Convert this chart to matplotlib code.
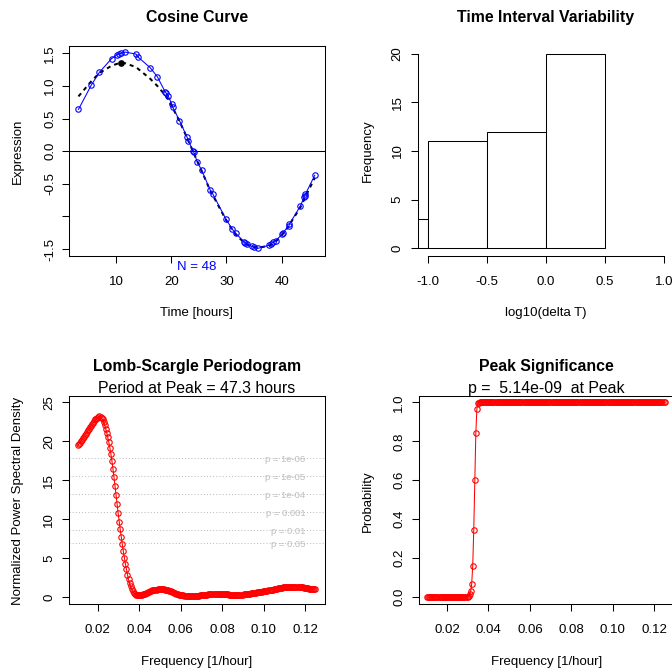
import numpy as np
import matplotlib
matplotlib.use('Agg')
import matplotlib.pyplot as plt
from matplotlib import transforms

plt.rcParams['font.family'] = ['Liberation Sans', 'DejaVu Sans']

W, H = 672, 670

# --- expression time series (hours, observed value, fitted curve) ---
hours = [3.2, 5.5, 7.0, 9.2, 10.2, 10.6, 10.9, 11.6, 13.6, 13.9,
         16.2, 17.5, 18.9, 19.1, 19.5, 20.1, 20.3, 21.5, 22.9, 23.1,
         24.0, 24.1, 24.7, 25.5, 27.1, 27.5, 29.9, 31.1, 31.7, 33.2,
         33.4, 33.7, 34.6, 35.0, 35.7, 37.8, 38.0, 38.5, 39.0, 40.1,
         40.2, 41.3, 41.4, 43.4, 44.1, 44.2, 44.3, 46.0]
expr = [0.64, 1.01, 1.21, 1.42, 1.48, 1.49, 1.50, 1.52, 1.49, 1.45,
        1.28, 1.14, 0.91, 0.89, 0.84, 0.72, 0.67, 0.47, 0.21, 0.16,
        0.00, -0.02, -0.16, -0.29, -0.60, -0.65, -1.04, -1.20, -1.26, -1.39,
        -1.41, -1.42, -1.46, -1.47, -1.49, -1.44, -1.42, -1.39, -1.37, -1.27,
        -1.25, -1.15, -1.12, -0.84, -0.70, -0.68, -0.66, -0.37]
fitted = [0.84, 1.07, 1.20, 1.31, 1.34, 1.35, 1.35, 1.35, 1.29, 1.27,
          1.11, 1.00, 0.86, 0.84, 0.79, 0.70, 0.66, 0.46, 0.20, 0.16,
          -0.01, -0.03, -0.15, -0.30, -0.61, -0.67, -1.05, -1.21, -1.28, -1.40,
          -1.41, -1.43, -1.46, -1.47, -1.48, -1.45, -1.44, -1.41, -1.38, -1.28,
          -1.27, -1.15, -1.13, -0.86, -0.74, -0.72, -0.70, -0.41]
fit_peak = (10.9, 1.35)

# --- sampling interval histogram (log10 of delta T) ---
bin_edges = [-1.5, -1.0, -0.5, 0.0, 0.5]
bin_counts = [3, 11, 12, 20]

# --- Lomb-Scargle periodogram ---
freq_from, freq_to = 0.0104, 0.1249
power = [19.5, 19.6, 19.8, 20.0, 20.2, 20.4, 20.6, 20.8, 21.0, 21.2,
         21.4, 21.6, 21.8, 22.0, 22.2, 22.4, 22.6, 22.8, 22.9, 23.0,
         23.1, 23.2, 23.1, 23.0, 22.8, 22.5, 22.1, 21.6, 21.1, 20.5,
         19.9, 19.2, 18.4, 17.5, 16.5, 15.4, 14.3, 13.1, 11.9, 10.8,
         9.7, 8.7, 7.7, 6.8, 5.9, 5.1, 4.3, 3.6, 2.9, 2.3,
         1.8, 1.4, 1.05, 0.8, 0.6, 0.45, 0.35, 0.3, 0.28, 0.28,
         0.28, 0.30, 0.33, 0.37, 0.42, 0.48, 0.54, 0.60, 0.66, 0.72,
         0.77, 0.82, 0.87, 0.91, 0.94, 0.97, 0.99, 1.00, 1.01, 1.02,
         1.02, 1.02, 1.01, 1.00, 0.98, 0.96, 0.93, 0.89, 0.85, 0.80,
         0.75, 0.70, 0.64, 0.58, 0.53, 0.48, 0.43, 0.39, 0.35, 0.31,
         0.28, 0.26, 0.24, 0.22, 0.21, 0.20, 0.19, 0.19, 0.18, 0.18,
         0.18, 0.18, 0.18, 0.19, 0.19, 0.20, 0.21, 0.22, 0.23, 0.25,
         0.26, 0.28, 0.30, 0.31, 0.33, 0.35, 0.36, 0.38, 0.39, 0.40,
         0.41, 0.42, 0.43, 0.43, 0.44, 0.44, 0.44, 0.44, 0.43, 0.43,
         0.42, 0.41, 0.40, 0.39, 0.38, 0.36, 0.35, 0.34, 0.33, 0.32,
         0.32, 0.31, 0.31, 0.31, 0.31, 0.32, 0.32, 0.33, 0.34, 0.35,
         0.37, 0.38, 0.40, 0.42, 0.44, 0.46, 0.48, 0.50, 0.52, 0.54,
         0.56, 0.59, 0.61, 0.63, 0.65, 0.67, 0.69, 0.71, 0.73, 0.75,
         0.77, 0.79, 0.82, 0.84, 0.87, 0.89, 0.92, 0.95, 0.98, 1.01,
         1.04, 1.07, 1.10, 1.13, 1.16, 1.19, 1.22, 1.24, 1.27, 1.29,
         1.31, 1.33, 1.34, 1.35, 1.36, 1.36, 1.37, 1.37, 1.37, 1.37,
         1.36, 1.36, 1.35, 1.34, 1.33, 1.31, 1.29, 1.27, 1.25, 1.22,
         1.19, 1.17, 1.14, 1.12, 1.10, 1.08, 1.07, 1.06, 1.06, 1.06]
prob = ([0.0] * 39
        + [0.003, 0.008, 0.015, 0.03, 0.068, 0.162, 0.345, 0.60, 0.843, 0.966, 0.995, 0.999]
        + [1.0] * 179)
freq = np.linspace(freq_from, freq_to, len(power))  # evenly spaced frequency grid

sig_labels = ['p = 0.05', 'p = 0.01', 'p = 0.001', 'p = 1e-04', 'p = 1e-05', 'p = 1e-06']
sig_levels = [6.98, 8.61, 10.91, 13.22, 15.52, 17.82]
peak_period = 47.3
peak_pvalue = '5.14e-09'
n_obs = 48

FS = 9.5      # axis text
FS_T = 11.4   # titles
LW = 0.75
MS = 3.9
GREY = '#bebebe'

fig = plt.figure(figsize=(W / 100, H / 100), dpi=100)


def panel(left, top, right, bottom):
    # plot region given in pixels from the top-left corner
    return fig.add_axes([left / W, 1 - bottom / H, (right - left) / W, (bottom - top) / H])


def r_axes(ax, xticks, xlabels, xlab_y, yticks, ylabels, ylab_x):
    ax.set_xticks(xticks)
    ax.set_yticks(yticks)
    ax.tick_params(direction='out', length=5, width=LW, labelbottom=False, labelleft=False)
    for s in ax.spines.values():
        s.set_linewidth(LW)
    tx = transforms.blended_transform_factory(ax.transData, fig.transFigure)
    for t, s in zip(xticks, xlabels):
        ax.text(t, 1 - xlab_y / H, s, transform=tx, ha='center', va='center', fontsize=FS)
    ty = transforms.blended_transform_factory(fig.transFigure, ax.transData)
    for t, s in zip(yticks, ylabels):
        ax.text(ylab_x / W, t, s, transform=ty, ha='center', va='center', rotation=90, fontsize=FS)


def put(x, y, s, **kw):
    fig.text(x / W, 1 - y / H, s, ha='center', va='center', **kw)


# Cosine Curve
ax1 = panel(69.3, 46, 325, 256)
ax1.axhline(0, color='black', lw=LW)
ax1.plot(hours, fitted, color='black', lw=1.45, ls=(0, (2, 2)))
ax1.plot(*fit_peak, 'o', color='black', ms=3.8)
ax1.plot(hours, expr, '-o', color='blue', lw=LW, mfc='none', mec='blue', ms=MS, mew=0.8)
ax1.set_xlim(1.54, 47.86)
ax1.set_ylim(-1.607, 1.613)
r_axes(ax1, [10, 20, 30, 40], ['10', '20', '30', '40'], 281.7,
       [-1.5, -1.0, -0.5, 0.0, 0.5, 1.0, 1.5], ['-1.5', '', '-0.5', '0.0', '0.5', '1.0', '1.5'], 50)
put(197, 17.3, 'Cosine Curve', fontsize=FS_T, fontweight='bold')
put(197, 312.7, 'Time [hours]', fontsize=FS)
put(18.3, 151, 'Expression', fontsize=FS, rotation=90)
put(197, 266.7, 'N = %d' % n_obs, fontsize=FS, color='blue')

# Time Interval Variability
ax2 = panel(418.3, 46, 674, 256)
ax2.bar(bin_edges[:-1], bin_counts, width=np.diff(bin_edges), align='edge',
        facecolor='white', edgecolor='black', lw=LW)
ax2.set_xlim(-1.08, 1.082)
ax2.set_ylim(-0.8, 20.8)
r_axes(ax2, [-1.0, -0.5, 0.0, 0.5, 1.0], ['-1.0', '-0.5', '0.0', '0.5', '1.0'], 281.7,
       [0, 5, 10, 15, 20], ['0', '5', '10', '15', '20'], 397.7)
ax2.spines['top'].set_visible(False)
ax2.spines['right'].set_visible(False)
ax2.spines['left'].set_bounds(0, 20)
ax2.spines['bottom'].set_bounds(-1.0, 1.0)
put(546, 17.3, 'Time Interval Variability', fontsize=FS_T, fontweight='bold')
put(546, 312.7, 'log10(delta T)', fontsize=FS)
put(367.7, 151, 'Frequency', fontsize=FS, rotation=90)

fticks = [0.02, 0.04, 0.06, 0.08, 0.10, 0.12]
flabels = ['0.02', '0.04', '0.06', '0.08', '0.10', '0.12']

# Lomb-Scargle Periodogram
ax3 = panel(69.3, 395.7, 325, 604.3)
for lev, lab in zip(sig_levels, sig_labels):
    ax3.axhline(lev, color=GREY, lw=LW, ls=(0, (1, 2)))
    ax3.text(0.1203, lev - 0.2, lab, ha='right', va='center', fontsize=6.8, color=GREY)
ax3.plot(freq, power, '-o', color='red', lw=LW, mfc='none', mec='red', ms=MS, mew=0.8)
ax3.set_xlim(0.00635, 0.12965)
ax3.set_ylim(-0.9, 25.85)
r_axes(ax3, fticks, flabels, 630, [0, 5, 10, 15, 20, 25], ['0', '5', '10', '15', '20', '25'], 49.3)
put(197, 366.7, 'Lomb-Scargle Periodogram', fontsize=FS_T, fontweight='bold')
put(197, 388.3, 'Period at Peak = %.1f hours' % peak_period, fontsize=FS_T)
put(197, 661.7, 'Frequency [1/hour]', fontsize=FS)
put(18.3, 501, 'Normalized Power Spectral Density', fontsize=FS, rotation=90)

# Peak Significance
ax4 = panel(418.7, 395.7, 674.4, 604.3)
ax4.plot(freq, prob, '-o', color='red', lw=LW, mfc='none', mec='red', ms=MS, mew=0.8)
ax4.set_xlim(0.00635, 0.12965)
ax4.set_ylim(-0.036, 1.034)
r_axes(ax4, fticks, flabels, 630, [0.0, 0.2, 0.4, 0.6, 0.8, 1.0],
       ['0.0', '0.2', '0.4', '0.6', '0.8', '1.0'], 399.3)
put(546.5, 366.7, 'Peak Significance', fontsize=FS_T, fontweight='bold')
put(546.5, 388.3, 'p =  %s  at Peak' % peak_pvalue, fontsize=FS_T)
put(546.5, 661.7, 'Frequency [1/hour]', fontsize=FS)
put(368.3, 501, 'Probability', fontsize=FS, rotation=90)

fig.savefig('out.png', dpi=100)
